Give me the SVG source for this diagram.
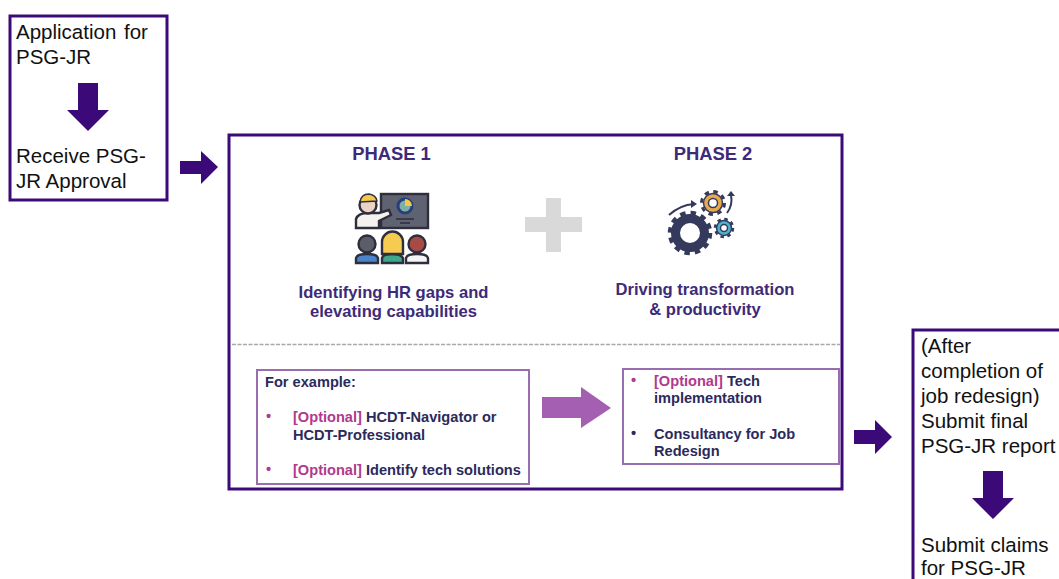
<svg xmlns="http://www.w3.org/2000/svg" width="1059" height="579" viewBox="0 0 1059 579">
<defs>
<style>
text{font-family:"Liberation Sans",Arial,sans-serif}
.big{font-size:20.500px;fill:#111}
.box{fill:#fff;stroke:#3c0a78;stroke-width:3}
.arrow{fill:#3c0a78}
.ph{font-size:18.400px;font-weight:bold;fill:#3d2a78}
.cap{font-size:16.600px;font-weight:bold;fill:#3d2a78}
.sub{font-size:14.600px;font-weight:bold;fill:#2c2a5c}
.opt{fill:#b03a8c}
.inner{fill:#fff;stroke:#9a6cb0;stroke-width:2}
.ol{stroke:#2e2e3c;stroke-width:2.400}
.gear{stroke:#353a5c;fill:none}
</style>
</defs>
<rect width="1059" height="579" fill="#fff"/>
<g id="node-application">
<rect class="box" x="10" y="16" width="157" height="184"/>
<text class="big" x="16" y="39">Application<tspan x="124">for</tspan></text>
<text class="big" x="16" y="64">PSG-JR</text>
<path class="arrow" d="M78 83H98V110H109L88 131L67 110H78Z"/>
<text class="big" x="16" y="163">Receive PSG-</text>
<text class="big" x="16" y="188">JR Approval</text>
</g>
<g id="node-phases">
<rect class="box" x="229" y="135" width="613" height="354"/>
<line x1="232" y1="344.500" x2="840" y2="344.500" stroke="#a8a8a8" stroke-width="1.500" stroke-dasharray="4 1.500"/>
<path fill="#d9d9d9" d="M546 198H561V217H582V232H561V252H546V232H525V217H546Z"/>
</g>
<g id="node-phase1">
<text class="ph" x="391.500" y="160" text-anchor="middle">PHASE 1</text>
<g id="icon-presenter">
<rect class="ol" x="381" y="194" width="47" height="34" fill="#5f6270"/>
<circle cx="405" cy="206" r="7" fill="#7fb0a8" stroke="#24407a" stroke-width="3"/>
<path d="M405 199A7 7 0 0 1 412 206H405Z" fill="#f2c94c"/>
<path d="M396 219H414M400 223H410" stroke="#2e2e3c" stroke-width="1.500"/>
<path class="ol" d="M356 228V219Q358 213 368 213L379 213L389 210L391 215L379 221V228Z" fill="#f4f1ee"/>
<circle class="ol" cx="368" cy="205" r="8.500" fill="#edd3c6"/>
<path d="M360 202Q361 194 369 194Q376 195 377 201Z" fill="#f2c94c" stroke="#2e2e3c" stroke-width="1.500"/>
<path class="ol" d="M356 263V258Q357 254 367 254Q377 254 378 258V263Z" fill="#4a85cc"/>
<circle class="ol" cx="367" cy="244" r="8.500" fill="#5b5e68"/>
<path class="ol" d="M382 263V258Q383 254 392 254Q401 254 403 258V263Z" fill="#3ea88a"/>
<path class="ol" d="M382 254V242A10.500 10.500 0 0 1 403 242V254Z" fill="#f5cc50"/>
<path class="ol" d="M406 263V258Q407 254 417 254Q427 254 428 258V263Z" fill="#f5f5f5"/>
<circle class="ol" cx="417" cy="244" r="8.500" fill="#a84a48"/>
</g>
<text class="cap" x="393.500" y="298" text-anchor="middle">Identifying HR gaps and</text>
<text class="cap" x="393.500" y="317" text-anchor="middle">elevating capabilities</text>
</g>
<g id="node-phase2">
<text class="ph" x="713" y="160" text-anchor="middle">PHASE 2</text>
<g id="icon-gears">
<path d="M669 215Q680 205 694 204" fill="none" stroke="#353a5c" stroke-width="2"/>
<path d="M691 200L697 204L691 208Z" fill="#353a5c"/>
<path d="M727 213Q733 205 731 195" fill="none" stroke="#353a5c" stroke-width="2"/>
<path d="M727 196L731 191L735 196Z" fill="#353a5c"/>
<circle class="gear" cx="690" cy="233" r="14.500" stroke-width="9"/>
<circle class="gear" cx="690" cy="233" r="20" stroke-width="4.500" stroke-dasharray="5.400 5.070"/>
<circle class="gear" cx="713" cy="203" r="11.500" stroke-width="3" stroke-dasharray="4.500 4.530"/>
<circle cx="713" cy="203" r="9.500" fill="#e8a94a" stroke="#353a5c" stroke-width="1.500"/>
<circle cx="713" cy="203" r="4.500" fill="#fff" stroke="#353a5c" stroke-width="1.500"/>
<circle class="gear" cx="724" cy="228" r="9" stroke-width="2.500" stroke-dasharray="3.500 3.570"/>
<circle cx="724" cy="228" r="7.500" fill="#4fb3d0" stroke="#353a5c" stroke-width="1.500"/>
<circle cx="724" cy="228" r="3.500" fill="#fff" stroke="#353a5c" stroke-width="1.500"/>
</g>
<text class="cap" x="705" y="295" text-anchor="middle">Driving transformation</text>
<text class="cap" x="705" y="315" text-anchor="middle">&amp; productivity</text>
</g>
<g id="node-example">
<rect class="inner" x="257" y="370" width="272" height="114"/>
<text class="sub" x="265" y="387">For example:</text>
<text class="sub opt" x="266" y="421">•</text>
<text class="sub" x="293" y="422"><tspan class="opt">[Optional]</tspan> HCDT-Navigator or</text>
<text class="sub" x="293" y="440">HCDT-Professional</text>
<text class="sub opt" x="266" y="474">•</text>
<text class="sub" x="293" y="475"><tspan class="opt">[Optional]</tspan> Identify tech solutions</text>
</g>
<g id="node-tech">
<rect class="inner" x="623" y="369" width="216" height="95"/>
<text class="sub opt" x="631" y="385">•</text>
<text class="sub" x="654" y="386"><tspan class="opt">[Optional]</tspan> Tech</text>
<text class="sub" x="654" y="403">implementation</text>
<text class="sub" x="631" y="438">•</text>
<text class="sub" x="654" y="439">Consultancy for Job</text>
<text class="sub" x="654" y="456">Redesign</text>
</g>
<g id="node-submit">
<rect class="box" x="913" y="330" width="157" height="260"/>
<text class="big" x="921" y="353">(After</text>
<text class="big" x="921" y="378">completion of</text>
<text class="big" x="921" y="403">job redesign)</text>
<text class="big" x="921" y="428">Submit final</text>
<text class="big" x="921" y="453">PSG-JR report</text>
<path class="arrow" d="M983 471H1003V498H1014L993 519L972 498H983Z"/>
<text class="big" x="921" y="552">Submit claims</text>
<text class="big" x="921" y="574.500">for PSG-JR</text>
</g>
<g id="connectors">
<path class="arrow" d="M180 161H201V151L218 167L201 184V174H180Z"/>
<path class="arrow" d="M854 430H875V420L892 437L875 454V444H854Z"/>
<path fill="#a55fb2" d="M542 397H581V387L611 408L581 428V418H542Z"/>
</g>
</svg>
